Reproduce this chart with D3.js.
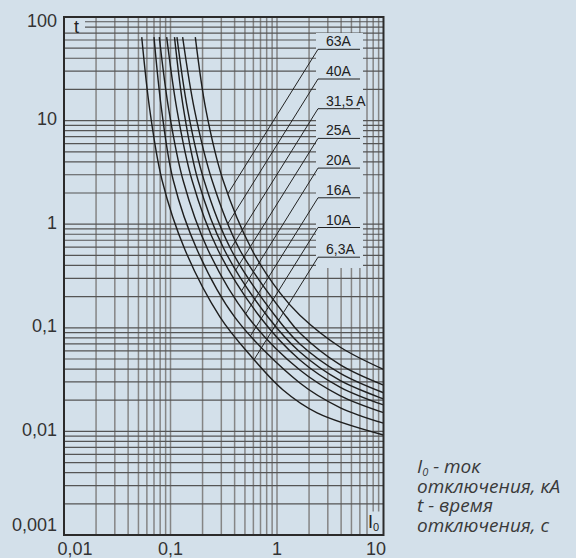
<!DOCTYPE html>
<html><head><meta charset="utf-8">
<script src="https://cdn.jsdelivr.net/npm/d3@7"></script>
<style>html,body{margin:0;padding:0;background:#d3e0ea;}svg{display:block}</style>
</head><body><svg id="chart" width="576" height="558"></svg>
<script>
// ---------- data ----------
const xTickValues = [0.01, 0.1, 1, 10];
const xTickLabels = ["0,01", "0,1", "1", "10"];
const yTickValues = [0.001, 0.01, 0.1, 1, 10, 100];
const yTickLabels = ["0,001", "0,01", "0,1", "1", "10", "100"];

const seriesNames = ["6,3A", "10A", "16A", "20A", "25A", "31,5 A", "40A", "63A"];

// current I0 (kA) and time t (s)
const current_6_3A = [0.0537, 0.0639, 0.0832, 0.137, 0.292, 0.558, 1.14, 2.38, 10];
const time_6_3A    = [64, 12.7, 2.67, 0.564, 0.127, 0.0546, 0.0251, 0.0151, 0.00923];
const current_10A  = [0.070, 0.0825, 0.106, 0.178, 0.401, 1.64, 3.9, 10];
const time_10A     = [64, 12.7, 2.67, 0.564, 0.127, 0.0293, 0.0170, 0.0120];
const current_16A  = [0.0785, 0.0964, 0.131, 0.225, 0.534, 1.64, 3.9, 10];
const time_16A     = [64, 12.7, 2.67, 0.564, 0.127, 0.0391, 0.0222, 0.0152];
const current_20A  = [0.0921, 0.115, 0.159, 0.279, 0.693, 1.64, 3.9, 10];
const time_20A     = [64, 12.7, 2.67, 0.564, 0.127, 0.0489, 0.0268, 0.0180];
const current_25A  = [0.109, 0.133, 0.181, 0.321, 0.823, 1.64, 3.9, 10];
const time_25A     = [64, 12.7, 2.67, 0.564, 0.127, 0.0584, 0.0311, 0.0206];
const current_31_5A = [0.115, 0.145, 0.206, 0.372, 0.98, 1.64, 3.9, 10];
const time_31_5A    = [64, 12.7, 2.67, 0.564, 0.127, 0.0698, 0.0365, 0.0236];
const current_40A  = [0.130, 0.168, 0.245, 0.448, 1.23, 1.64, 3.9, 10];
const time_40A     = [64, 12.7, 2.67, 0.564, 0.127, 0.0891, 0.0441, 0.0280];
const current_63A  = [0.171, 0.215, 0.311, 0.583, 1.067, 1.64, 3.9, 10];
const time_63A     = [64, 12.7, 2.67, 0.564, 0.217, 0.132, 0.0653, 0.0397];

const legendLines = ["отключения, кА", "t - время", "отключения, с"];

// ---------- layout ----------
const BG = "#d3e0ea";
const svg = d3.select("#chart");
svg.append("rect").attr("width", 576).attr("height", 558).attr("fill", BG);

const L = 64, R = 383.5, T = 17, B = 535;
const x = d3.scaleLog().domain([0.01, 10]).range([L, R]);
const y = d3.scaleLog().domain([0.001, 100]).range([B, T]);

const series = [
  {name: seriesNames[0], I: current_6_3A, t: time_6_3A},
  {name: seriesNames[1], I: current_10A, t: time_10A},
  {name: seriesNames[2], I: current_16A, t: time_16A},
  {name: seriesNames[3], I: current_20A, t: time_20A},
  {name: seriesNames[4], I: current_25A, t: time_25A},
  {name: seriesNames[5], I: current_31_5A, t: time_31_5A},
  {name: seriesNames[6], I: current_40A, t: time_40A},
  {name: seriesNames[7], I: current_63A, t: time_63A}
];

// grid values
function decadeValues(lo, hi) {
  const out = [];
  for (let e = Math.round(Math.log10(lo)); e < Math.round(Math.log10(hi)); e++) {
    for (let k = 1; k <= 9; k++) {
      const v = k * Math.pow(10, e);
      if (v > lo * 1.0001 && v < hi * 0.9999) out.push(v);
    }
  }
  return out;
}
const xGrid = decadeValues(0.01, 10);
const yGrid = decadeValues(0.001, 100);

const grid = svg.append("g");
grid.selectAll("line.v").data(xGrid).join("line").attr("class", "v")
  .attr("x1", d => x(d)).attr("x2", d => x(d)).attr("y1", T).attr("y2", B)
  .attr("stroke", "#858585").attr("stroke-width", 1.5);
grid.selectAll("line.h").data(yGrid).join("line").attr("class", "h")
  .attr("x1", L).attr("x2", R).attr("y1", d => y(d)).attr("y2", d => y(d))
  .attr("stroke", "#555").attr("stroke-width", 1.2);

// occluding boxes behind labels
svg.append("rect").attr("x", 316).attr("y", 33).attr("width", 47).attr("height", 235).attr("fill", BG);
svg.append("rect").attr("x", L).attr("y", T).attr("width", 21).attr("height", 14.5).attr("fill", BG);
svg.append("rect").attr("x", 368.5).attr("y", 511.5).attr("width", R - 368.5).attr("height", B - 511.5).attr("fill", BG);

// curves
const line = d3.line().x(d => x(d[0])).y(d => y(d[1])).curve(d3.curveCatmullRom.alpha(0.5));
const paths = series.map(s => {
  const pts = s.I.map((v, i) => [v, s.t[i]]);
  return svg.append("path").attr("d", line(pts)).attr("fill", "none")
    .attr("stroke", "#1e1e1e").attr("stroke-width", 1.4).node();
});

// labels with underline and leader lines
const slope = 1.6;
const labelG = svg.append("g");
series.forEach((s, i) => {
  const slot = series.length - 1 - i;
  const uy = 49.3 + slot * 29.7;
  const ux0 = 318, ux1 = 360;
  labelG.append("line").attr("x1", ux0).attr("x2", ux1).attr("y1", uy).attr("y2", uy)
    .attr("stroke", "#222").attr("stroke-width", 1);
  labelG.append("text").attr("x", 326).attr("y", uy - 3).text(s.name)
    .attr("font-family", "Liberation Sans, Arial, sans-serif").attr("font-size", 14).attr("fill", "#222");
  const p = paths[i];
  const len = p.getTotalLength();
  let hit = null;
  for (let l = 0; l <= len; l += 0.25) {
    const q = p.getPointAtLength(l);
    const g = q.x - ux0 + (q.y - uy) / slope;
    if (q.y > uy && g >= 0) { hit = q; break; }
  }
  if (hit) {
    labelG.append("line").attr("x1", ux0).attr("y1", uy).attr("x2", hit.x).attr("y2", hit.y)
      .attr("stroke", "#222").attr("stroke-width", 1);
  }
});

// frame
svg.append("rect").attr("x", L).attr("y", T).attr("width", R - L).attr("height", B - T)
  .attr("fill", "none").attr("stroke", "#2b2b2b").attr("stroke-width", 2);

// axis labels
const font = "Liberation Sans, Arial, sans-serif";
svg.selectAll("text.xl").data(xTickValues).join("text").attr("class", "xl")
  .attr("x", d => Math.max(75, Math.min(376, x(d)))).attr("y", 555)
  .attr("text-anchor", "middle").attr("font-family", font).attr("font-size", 18).attr("fill", "#333")
  .text((d, i) => xTickLabels[i]);
svg.selectAll("text.yl").data(yTickValues).join("text").attr("class", "yl")
  .attr("x", 57).attr("y", d => Math.max(21, Math.min(525, y(d) - 2)))
  .attr("dy", "0.35em").attr("text-anchor", "end").attr("font-family", font).attr("font-size", 18).attr("fill", "#333")
  .text((d, i) => yTickLabels[i]);

// axis name labels
svg.append("text").attr("x", 76.5).attr("y", 33).attr("text-anchor", "middle")
  .attr("font-family", font).attr("font-size", 18).attr("fill", "#222").text("t");
const i0 = svg.append("text").attr("x", 368).attr("y", 528)
  .attr("font-family", font).attr("font-size", 18).attr("fill", "#222");
i0.append("tspan").text("I");
i0.append("tspan").attr("font-size", 11).attr("dy", 3).text("0");

// legend (explanation) as one multi-line text block
const lf = "Open Sans, Noto Sans, sans-serif";
const leg = svg.append("text").attr("x", 417).attr("y", 473)
  .attr("font-family", lf).attr("font-style", "italic")
  .attr("font-size", 19).attr("fill", "#3a3a3a");
leg.append("tspan").text("I");
leg.append("tspan").attr("font-size", 11).attr("dy", 3).text("0");
leg.append("tspan").attr("dy", -3).text(" - ток");
legendLines.forEach((s, i) => {
  leg.append("tspan").attr("x", 417).attr("dy", 19.5).text(s);
});
</script>
</body></html>
